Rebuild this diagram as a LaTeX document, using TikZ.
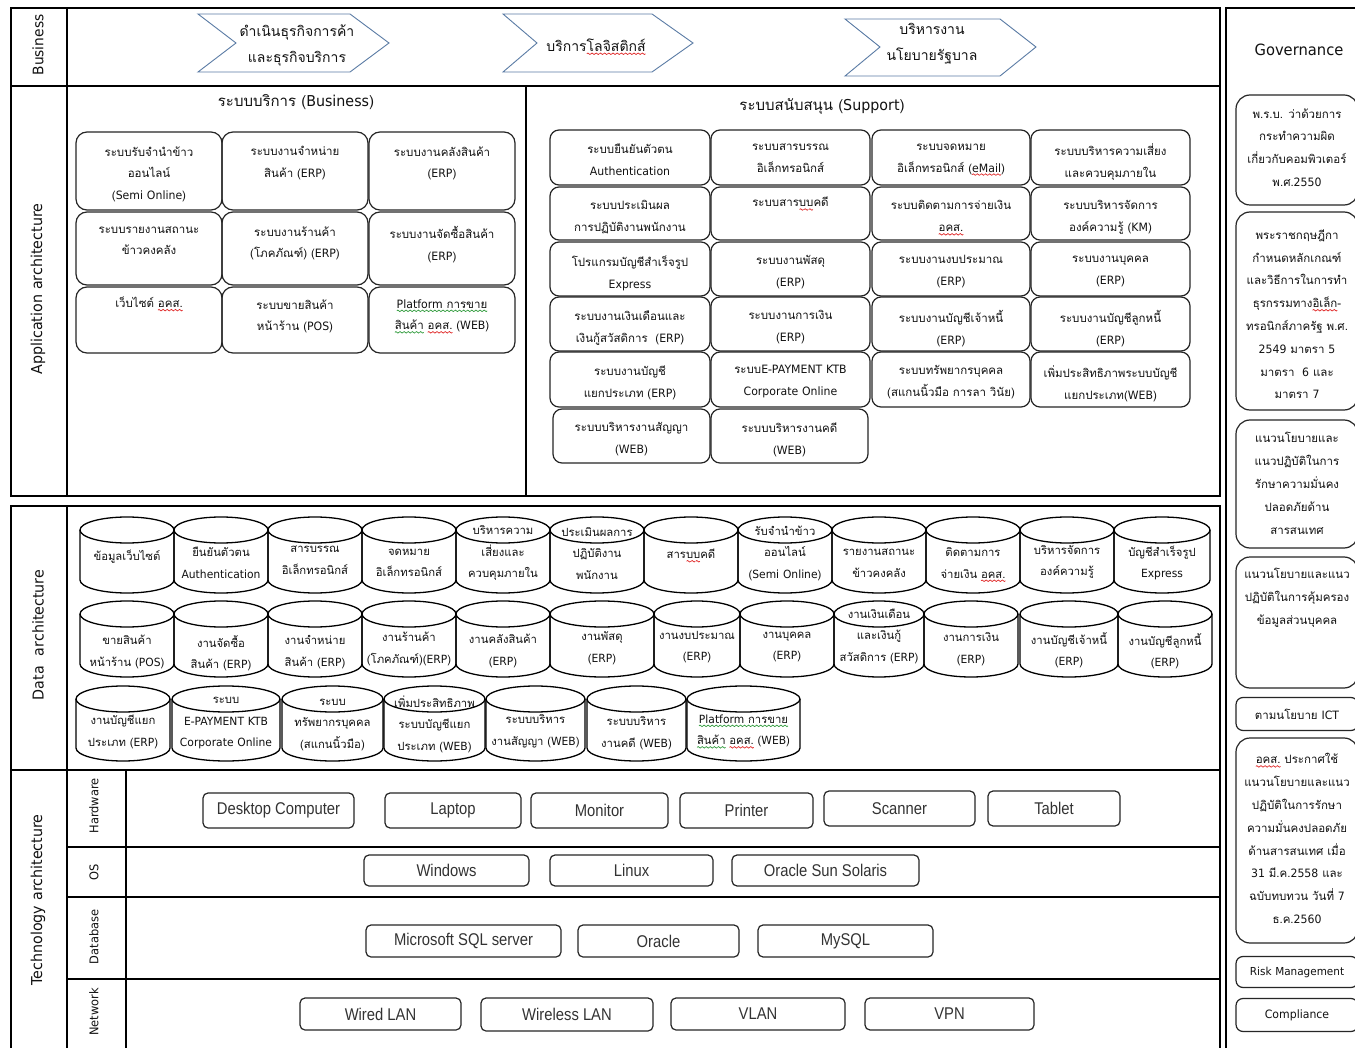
\documentclass[tikz,border=0pt]{standalone}
\usepackage{fontspec}
\setmainfont{Loma}[Script=Thai]
\newfontfamily\latfont{DejaVu Sans}[FakeStretch=0.95]
\newfontfamily\narrowfont{Liberation Sans}[FakeStretch=0.87]
\usetikzlibrary{calc}

% Latin letters and digits are set in DejaVu Sans, Thai in Loma
\chardef\offstate=0
\newXeTeXintercharclass\LatCls
\newcount\chcode
\chcode=`A \loop\XeTeXcharclass\chcode=\LatCls \ifnum\chcode<`Z \advance\chcode by 1 \repeat
\chcode=`a \loop\XeTeXcharclass\chcode=\LatCls \ifnum\chcode<`z \advance\chcode by 1 \repeat
\chcode=`0 \loop\XeTeXcharclass\chcode=\LatCls \ifnum\chcode<`9 \advance\chcode by 1 \repeat
\XeTeXinterchartoks 0 \LatCls = {\latfont}
\XeTeXinterchartoks 4095 \LatCls = {\latfont}
\XeTeXinterchartoks \LatCls 0 = {\rmfamily}
\XeTeXinterchartoks \LatCls 4095 = {\rmfamily}
\newcommand\plainrun{\XeTeXinterchartokenstate=\offstate}
\XeTeXinterchartokenstate=1

\definecolor{chevblue}{HTML}{5B7CA5}
\definecolor{ink}{HTML}{111111}
\definecolor{spellred}{HTML}{E02424}
\definecolor{spellgreen}{HTML}{2E9A3A}

% proof-reading wavy underlines, built from one repeated wave period
\newsavebox\redwavebox
\newsavebox\greenwavebox
\newsavebox\wavetmp
\newcommand\makewave[2]{%
  \sbox#1{\begin{pgfpicture}
    \pgfpathmoveto{\pgfpoint{0pt}{0pt}}
    \pgfpathcurveto{\pgfpoint{0.66pt}{1pt}}{\pgfpoint{1.33pt}{1pt}}{\pgfpoint{2pt}{0pt}}
    \pgfpathcurveto{\pgfpoint{2.66pt}{-1pt}}{\pgfpoint{3.33pt}{-1pt}}{\pgfpoint{4pt}{0pt}}
    \pgfsetlinewidth{0.7pt}\pgfsetstrokecolor{#2}
    \pgfusepath{stroke}
    \pgfresetboundingbox
    \pgfpathrectangle{\pgfpoint{0pt}{-1pt}}{\pgfpoint{4pt}{2pt}}
    \pgfusepath{use as bounding box}
  \end{pgfpicture}}}
\newcommand\wavyunder[2]{%
  \sbox\wavetmp{#2}%
  \rlap{\raisebox{-3.5pt}[0pt][0pt]{\hbox to \wd\wavetmp{\xleaders\copy#1\hfill}}}%
  \usebox\wavetmp}
\newcommand\redwave[1]{\wavyunder{\redwavebox}{#1}}
\newcommand\greenwave[1]{\wavyunder{\greenwavebox}{#1}}

% rounded box with its text hung from the top edge
% #1 style, #2 name, #3 x1, #4 y1, #5 x2, #6 y2, #7 text
\newcommand\apbox[7]{%
  \node[#1, minimum width={(#5-#3)*1pt}, minimum height={(#6-#4)*1pt}] (#2) at ({(#3+#5)/2},{(#4+#6)/2}) {};
  \node[#1 text, anchor=north] (#2t) at ([yshift=-\tpad]#2.north) {#7};
}
% rounded box with centred text
\newcommand\tkbox[6]{%
  \node[techbox, minimum width={(#5-#3)*1pt}, minimum height={(#6-#4)*1pt}] (#1) at ({(#3+#5)/2},{(#4+#6)/2}) {#2};
}
% database cylinder: #1 name, #2 x-left, #3 y-top, #4 width, #5 height, #6 text offset, #7 text
\newcommand\dbcyl[7]{%
  \draw[cyl] ({#2+#4/2},{#3+13}) ellipse [x radius={#4/2}, y radius=13];
  \draw[cyl] (#2,{#3+13}) -- (#2,{#3+#5-13}) arc[start angle=180, end angle=0, x radius={#4/2}, y radius=13] -- ({#2+#4},{#3+13});
  \node[cyl text] (#1) at ({#2+#4/2},{#3+#6}) {#7};
}
\def\tpad{15pt}

\begin{document}
\makewave\redwavebox{spellred}%
\makewave\greenwavebox{spellgreen}%
\begin{tikzpicture}[x=1pt,y=-1pt,
  frame/.style={draw=black, line width=1.3pt},
  chev/.style={draw=chevblue, line width=0.9pt, fill=white, line join=miter},
  chev text/.style={font=\fontsize{14}{26}\selectfont, align=center, inner sep=0pt, text=ink},
  appbox/.style={draw=black!85, line width=1.2pt, rounded corners=11pt, inner sep=0pt},
  appbox text/.style={font=\fontsize{11.5}{21.5}\selectfont, align=center, inner sep=0pt, text=ink, execute at begin node=\strut},
  supbox/.style={draw=black!85, line width=1.2pt, rounded corners=9pt, inner sep=0pt},
  supbox text/.style={font=\fontsize{11.5}{22}\selectfont, align=center, inner sep=0pt, text=ink, execute at begin node=\strut},
  govbox/.style={draw=black!85, line width=1.2pt, rounded corners=14pt, inner sep=0pt},
  govbox text/.style={font=\fontsize{11.5}{22.8}\selectfont, align=center, inner sep=0pt, text=ink, execute at begin node=\strut},
  techbox/.style={draw=black!85, line width=1.2pt, rounded corners=5pt, inner sep=0pt, font=\plainrun\narrowfont\fontsize{17}{20}\selectfont, text=black!80},
  cyl/.style={draw=black, line width=1.3pt},
  cyl text/.style={font=\fontsize{11.3}{21.5}\selectfont, align=center, inner sep=0pt, text=ink},
  vlabel/.style={rotate=90, font=\fontsize{15}{17}\selectfont, inner sep=0pt, text=ink},
  slabel/.style={rotate=90, font=\fontsize{12}{14}\selectfont, inner sep=0pt, text=ink},
  title/.style={font=\fontsize{15}{17}\selectfont, inner sep=0pt, text=ink}
]
\fill[white] (0,0) rectangle (1355,1048);
\useasboundingbox (0,0) rectangle (1355,1048);

% ---------- frames ----------
\draw[frame] (11,8) rectangle (1220,496);
\draw[frame] (11,86) -- (1220,86);
\draw[frame] (67,8) -- (67,496);
\draw[frame] (526,86) -- (526,496);
\draw[frame] (11,506) rectangle (1220,770);
\draw[frame] (67,506) -- (67,770);
\draw[frame] (11,770) -- (11,1052);
\draw[frame] (67,770) -- (67,1052);
\draw[frame] (126,770) -- (126,1052);
\draw[frame] (1220,770) -- (1220,1052);
\draw[frame] (67,847) -- (1220,847);
\draw[frame] (67,897) -- (1220,897);
\draw[frame] (67,979) -- (1220,979);
\draw[frame] (1226,1052) -- (1226,8) -- (1360,8);

% ---------- layer labels ----------
\node[vlabel, font=\fontsize{14.5}{17}\selectfont] (lbiz) at (38,45) {Business};
\node[vlabel] (lapp) at (38,289) {Application architecture};
\node[vlabel] (ldata) at (38,635) {Data\ \ architecture};
\node[vlabel] (ltech) at (38,900) {Technology architecture};
\node[slabel] (lhw) at (94,806) {Hardware};
\node[slabel] (los) at (94,872) {OS};
\node[slabel] (ldb) at (94,937) {Database};
\node[slabel] (lnet) at (94,1012) {Network};

% ---------- business chevrons ----------
\draw[chev] (198,14) -- (350,14) -- (389,43) -- (350,72) -- (198,72) -- (236,43) -- cycle;
\node[chev text] (ch1) at (297,45) {ดำเนินธุรกิจการค้า\\และธุรกิจบริการ};
\draw[chev] (503,14) -- (652,14) -- (693,43) -- (652,72) -- (503,72) -- (537,43) -- cycle;
\node[chev text] (ch2) at (596,45) {บริการ\redwave{โลจิสติกส์}};
\draw[chev] (845,19) -- (1000,19) -- (1036,47) -- (1000,76) -- (845,76) -- (880,47) -- cycle;
\node[chev text] (ch3) at (932,44) {บริหารงาน\\นโยบายรัฐบาล};

% ---------- application: business systems ----------
\node[title] (tbiz) at (296,102) {ระบบบริการ (Business)};
\apbox{appbox}{b11}{76}{132}{222}{210}{ระบบรับจำนำข้าว\\ออนไลน์\\(Semi Online)}
\apbox{appbox}{b12}{222}{132}{368}{210}{ระบบงานจำหน่าย\\สินค้า (ERP)}
\apbox{appbox}{b13}{369}{132}{515}{210}{ระบบงานคลังสินค้า\\(ERP)}
\apbox{appbox}{b21}{76}{212}{222}{285}{ระบบรายงานสถานะ\\ข้าวคงคลัง}
\apbox{appbox}{b22}{222}{212}{368}{285}{ระบบงานร้านค้า\\(โภคภัณฑ์) (ERP)}
\apbox{appbox}{b23}{369}{212}{515}{285}{ระบบงานจัดซื้อสินค้า\\(ERP)}
\def\tpad{6pt}
\apbox{appbox}{b31}{76}{287}{222}{353}{เว็บไซต์ \redwave{อคส.}}
\def\tpad{13pt}
\apbox{appbox}{b32}{222}{287}{368}{353}{ระบบขายสินค้า\\หน้าร้าน (POS)}
\apbox{appbox}{b33}{369}{287}{515}{353}{\greenwave{Platform การขาย}\\\greenwave{สินค้า} \redwave{อคส.} (WEB)}

% ---------- application: support systems ----------
\node[title] (tsup) at (822,106) {ระบบสนับสนุน (Support)};
\def\tpad{14pt}
\apbox{supbox}{s11}{550}{130}{710}{185}{ระบบยืนยันตัวตน\\Authentication}
\apbox{supbox}{s12}{711}{130}{870}{185}{ระบบสารบรรณ\\อิเล็กทรอนิกส์}
\apbox{supbox}{s13}{872}{130}{1030}{185}{ระบบจดหมาย\\อิเล็กทรอนิกส์ (\redwave{eMail})}
\apbox{supbox}{s14}{1031}{130}{1190}{185}{ระบบบริหารความเสี่ยง\\และควบคุมภายใน}
\apbox{supbox}{s21}{550}{187}{710}{240}{ระบบประเมินผล\\การปฏิบัติงานพนักงาน}
\def\tpad{5pt}
\apbox{supbox}{s22}{711}{187}{870}{240}{ระบบสาร\redwave{บบ}คดี}
\def\tpad{14pt}
\apbox{supbox}{s23}{872}{187}{1030}{240}{ระบบติดตามการจ่ายเงิน\\\redwave{อคส.}}
\apbox{supbox}{s24}{1031}{187}{1190}{240}{ระบบบริหารจัดการ\\องค์ความรู้ (KM)}
\apbox{supbox}{s31}{550}{242}{710}{296}{โปรแกรมบัญชีสำเร็จรูป\\Express}
\apbox{supbox}{s32}{711}{242}{870}{296}{ระบบงานพัสดุ\\(ERP)}
\apbox{supbox}{s33}{872}{242}{1030}{296}{ระบบงานงบประมาณ\\(ERP)}
\apbox{supbox}{s34}{1031}{242}{1190}{296}{ระบบงานบุคคล\\(ERP)}
\apbox{supbox}{s41}{550}{297}{710}{351}{ระบบงานเงินเดือนและ\\เงินกู้สวัสดิการ\ \ (ERP)}
\apbox{supbox}{s42}{711}{297}{870}{351}{ระบบงานการเงิน\\(ERP)}
\apbox{supbox}{s43}{872}{297}{1030}{351}{ระบบงานบัญชีเจ้าหนี้\\(ERP)}
\apbox{supbox}{s44}{1031}{297}{1190}{351}{ระบบงานบัญชีลูกหนี้\\(ERP)}
\apbox{supbox}{s51}{550}{352}{710}{407}{ระบบงานบัญชี\\แยกประเภท (ERP)}
\apbox{supbox}{s52}{711}{352}{870}{407}{ระบบE-PAYMENT KTB\\Corporate Online}
\apbox{supbox}{s53}{872}{352}{1030}{407}{ระบบทรัพยากรบุคคล\\(สแกนนิ้วมือ การลา วินัย)}
\apbox{supbox}{s54}{1031}{352}{1190}{407}{เพิ่มประสิทธิภาพระบบบัญชี\\แยกประเภท(WEB)}
\apbox{supbox}{s61}{553}{409}{710}{463}{ระบบบริหารงานสัญญา\\(WEB)}
\apbox{supbox}{s62}{711}{409}{868}{463}{ระบบบริหารงานคดี\\(WEB)}

% ---------- data architecture ----------
\dbcyl{d01}{80}{517}{94}{76}{40}{ข้อมูลเว็บไซต์}
\dbcyl{d02}{174}{517}{94}{76}{46}{ยืนยันตัวตน\\Authentication}
\dbcyl{d03}{268}{517}{94}{76}{43}{สารบรรณ\\อิเล็กทรอนิกส์}
\dbcyl{d04}{362}{517}{94}{76}{46}{จดหมาย\\อิเล็กทรอนิกส์}
\dbcyl{d05}{456}{517}{94}{76}{36}{บริหารความ\\เสี่ยงและ\\ควบคุมภายใน}
\dbcyl{d06}{550}{517}{94}{76}{36}{ประเมินผลการ\\ปฏิบัติงาน\\พนักงาน}
\dbcyl{d07}{644}{517}{94}{76}{37}{สาร\redwave{บบ}คดี}
\dbcyl{d08}{738}{517}{94}{76}{36}{รับจำนำข้าว\\ออนไลน์\\(Semi Online)}
\dbcyl{d09}{832}{517}{94}{76}{46}{รายงานสถานะ\\ข้าวคงคลัง}
\dbcyl{d10}{926}{517}{94}{76}{46}{ติดตามการ\\จ่ายเงิน \redwave{อคส.}}
\dbcyl{d11}{1020}{517}{94}{76}{45}{บริหารจัดการ\\องค์ความรู้}
\dbcyl{d12}{1114}{517}{96}{76}{46}{บัญชีสำเร็จรูป\\Express}

\dbcyl{e01}{80}{601}{94}{76}{51}{ขายสินค้า\\หน้าร้าน (POS)}
\dbcyl{e02}{174}{601}{94}{76}{52}{งานจัดซื้อ\\สินค้า (ERP)}
\dbcyl{e03}{268}{601}{94}{76}{51}{งานจำหน่าย\\สินค้า (ERP)}
\dbcyl{e04}{362}{601}{94}{76}{48}{งานร้านค้า\\(โภคภัณฑ์)(ERP)}
\dbcyl{e05}{456}{601}{94}{76}{50}{งานคลังสินค้า\\(ERP)}
\dbcyl{e06}{550}{601}{104}{76}{47}{งานพัสดุ\\(ERP)}
\dbcyl{e07}{654}{601}{86}{76}{46}{งานงบประมาณ\\(ERP)}
\dbcyl{e08}{740}{601}{94}{76}{46}{งานบุคคล\\(ERP)}
\dbcyl{e09}{834}{601}{90}{76}{35}{งานเงินเดือน\\และเงินกู้\\สวัสดิการ (ERP)}
\dbcyl{e10}{924}{601}{94}{76}{48}{งานการเงิน\\(ERP)}
\dbcyl{e11}{1020}{601}{98}{76}{49}{งานบัญชีเจ้าหนี้\\(ERP)}
\dbcyl{e12}{1118}{601}{94}{76}{50}{งานบัญชีลูกหนี้\\(ERP)}

\dbcyl{f01}{76}{686}{94}{75}{46}{งานบัญชีแยก\\ประเภท (ERP)}
\dbcyl{f02}{172}{686}{108}{75}{37}{ระบบ\\E-PAYMENT KTB\\Corporate Online}
\dbcyl{f03}{282}{686}{101}{75}{39}{ระบบ\\ทรัพยากรบุคคล\\(สแกนนิ้วมือ)}
\dbcyl{f04}{384}{686}{101}{75}{38}{เพิ่มประสิทธิภาพ\\ระบบบัญชีแยก\\ประเภท (WEB)}
\dbcyl{f05}{486}{686}{99}{75}{45}{ระบบบริหาร\\งานสัญญา (WEB)}
\dbcyl{f06}{587}{686}{99}{75}{47}{ระบบบริหาร\\งานคดี (WEB)}
\dbcyl{f07}{687}{686}{113}{75}{45}{\greenwave{Platform การขาย}\\\greenwave{สินค้า} \redwave{อคส.} (WEB)}

% ---------- technology architecture ----------
\tkbox{hw1}{Desktop Computer}{203}{793}{354}{828}
\tkbox{hw2}{Laptop}{385}{793}{521}{828}
\tkbox{hw3}{Monitor}{531}{793}{668}{828}
\tkbox{hw4}{Printer}{680}{793}{813}{828}
\tkbox{hw5}{Scanner}{824}{791}{975}{826}
\tkbox{hw6}{Tablet}{988}{791}{1120}{826}
\tkbox{os1}{Windows}{364}{855}{529}{886}
\tkbox{os2}{Linux}{550}{855}{713}{886}
\tkbox{os3}{Oracle Sun Solaris}{732}{855}{919}{886}
\tkbox{db1}{Microsoft SQL server}{366}{925}{561}{957}
\tkbox{db2}{Oracle}{578}{925}{739}{957}
\tkbox{db3}{MySQL}{758}{925}{933}{957}
\tkbox{nw1}{Wired LAN}{300}{998}{461}{1030}
\tkbox{nw2}{Wireless LAN}{481}{998}{653}{1031}
\tkbox{nw3}{VLAN}{671}{998}{845}{1030}
\tkbox{nw4}{VPN}{865}{998}{1034}{1030}

% ---------- governance ----------
\node[title, font=\fontsize{15.5}{17}\selectfont] (tgov) at (1299,50) {Governance};
\def\tpad{14pt}
\apbox{govbox}{g1}{1236}{95}{1358}{205}{พ.ร.บ. ว่าด้วยการ\\กระทำความผิด\\เกี่ยวกับคอมพิวเตอร์\\พ.ศ.2550}
\def\tpad{18pt}
\apbox{govbox}{g2}{1236}{212}{1358}{410}{พระราชกฤษฎีกา\\กำหนดหลักเกณฑ์\\และวิธีการในการทำ\\ธุรกรรมทาง\redwave{อิเล็ก}-\\ทรอนิกส์ภาครัฐ พ.ศ.\\2549 มาตรา 5\\มาตรา\ \ 6 และ\\มาตรา 7}
\def\tpad{13pt}
\apbox{govbox}{g3}{1236}{420}{1358}{548}{แนวนโยบายและ\\แนวปฏิบัติในการ\\รักษาความมั่นคง\\ปลอดภัยด้าน\\สารสนเทศ}
\def\tpad{12pt}
\apbox{govbox}{g4}{1236}{557}{1358}{688}{แนวนโยบายและแนว\\ปฏิบัติในการคุ้มครอง\\ข้อมูลส่วนบุคคล}
\def\tpad{16pt}
\apbox{govbox}{g6}{1236}{738}{1358}{943}{\redwave{อคส.} ประกาศใช้\\แนวนโยบายและแนว\\ปฏิบัติในการรักษา\\ความมั่นคงปลอดภัย\\ด้านสารสนเทศ เมื่อ\\31 มี.ค.2558 และ\\ฉบับทบทวน วันที่ 7\\ธ.ค.2560}
\node[govbox, rounded corners=7pt, minimum width=122pt, minimum height=33pt, font=\fontsize{11.5}{13}\selectfont, text=ink] (g5) at (1297,714) {ตามนโยบาย ICT};
\node[govbox, rounded corners=7pt, minimum width=122pt, minimum height=31pt, font=\fontsize{11}{13}\selectfont, text=ink] (g7) at (1297,972) {Risk Management};
\node[govbox, rounded corners=7pt, minimum width=122pt, minimum height=33pt, font=\fontsize{11.5}{13}\selectfont, text=ink] (g8) at (1297,1015) {Compliance};
\end{tikzpicture}
\end{document}
